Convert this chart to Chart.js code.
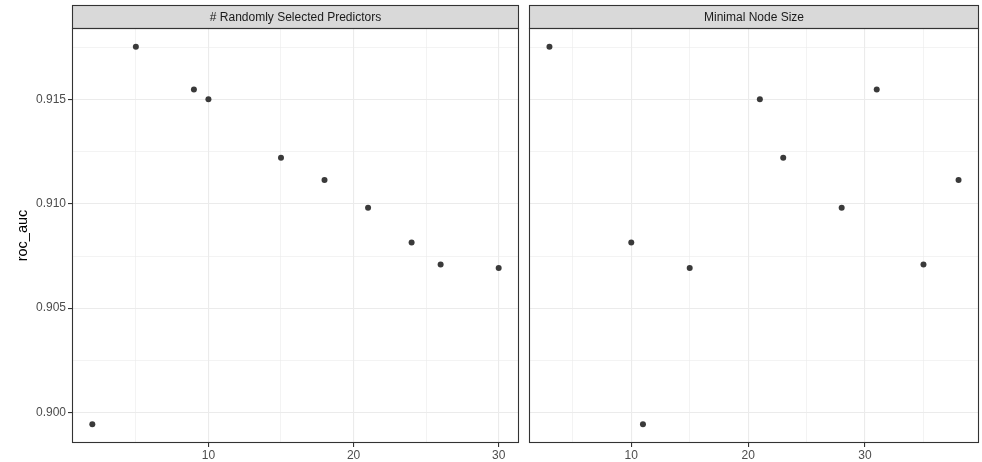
<!DOCTYPE html>
<html>
<head>
<meta charset="utf-8">
<script src="https://cdn.jsdelivr.net/npm/chart.js@4/dist/chart.umd.min.js"></script>
<style>
  html, body { margin: 0; padding: 0; background: #fff; }
  #wrap { position: relative; width: 982px; height: 462px; overflow: hidden; }
  canvas { position: absolute; top: 0; }
  #left { left: 0; }
  #right { left: 522px; }
</style>
</head>
<body>
<div id="wrap">
  <canvas id="left" width="522" height="462"></canvas>
  <canvas id="right" width="460" height="462"></canvas>
</div>
<script>
// tuning results, one row per candidate
const mtry   = [2, 5, 9, 10, 15, 18, 21, 24, 26, 30];
const minN   = [11, 3, 31, 21, 23, 38, 28, 10, 35, 15];
const rocAuc = [0.89943, 0.91754, 0.91549, 0.91503, 0.91222, 0.91115, 0.90982, 0.90815, 0.90709, 0.90693];

const facetTitles = ['# Randomly Selected Predictors', 'Minimal Node Size'];

const yMajor = [0.900, 0.905, 0.910, 0.915];
const yMinor = [0.9025, 0.9075, 0.9125, 0.9175];
const xMajor = [10, 20, 30];
const xMinorLeft = [5, 15, 25];
const xMinorRight = [5, 15, 25, 35];

const FONT = '"Liberation Sans", Arial, Helvetica, sans-serif';

// ggplot-like expanded ranges
function expand(vals, mult) {
  const lo = Math.min(...vals), hi = Math.max(...vals);
  const pad = (hi - lo) * mult;
  return { min: lo - pad, max: hi + pad };
}
const yRange = expand(rocAuc, 0.05);

function buildTicks(major, minor) {
  return major.map(v => ({ value: v, minor: false }))
    .concat(minor.map(v => ({ value: v, minor: true })))
    .sort((a, b) => a.value - b.value);
}

const gridWidth = ctx => (ctx.tick && ctx.tick.minor) ? 0.6 : 1.1;
const tickColor = ctx => (ctx.tick && ctx.tick.minor) ? 'rgba(0,0,0,0)' : '#333333';

// panel border + strip on top
const facetPlugin = {
  id: 'facet',
  afterDraw(chart, args, opts) {
    const { ctx, chartArea: a } = chart;
    ctx.save();
    const top = 5;
    const l = Math.round(a.left) + 0.5, r = Math.round(a.right) - 0.5;
    const t = Math.round(a.top) + 0.5, b = Math.round(a.bottom) - 0.5;
    ctx.fillStyle = '#D9D9D9';
    ctx.fillRect(l, top + 0.5, r - l, t - top);
    ctx.strokeStyle = '#333333';
    ctx.lineWidth = 1.1;
    ctx.strokeRect(l, top + 0.5, r - l, t - top - 0.5);
    ctx.strokeRect(l, t, r - l, b - t);
    ctx.fillStyle = '#1A1A1A';
    ctx.font = '12px ' + FONT;
    ctx.textAlign = 'center';
    ctx.textBaseline = 'middle';
    ctx.fillText(opts.title, (a.left + a.right) / 2, (top + a.top) / 2 + 1);
    ctx.restore();
  }
};

function makePanel(canvasId, xs, xMinor, title, withYAxis) {
  const xRange = expand(xs, 0.05);
  return new Chart(document.getElementById(canvasId), {
    type: 'scatter',
    data: {
      datasets: [{
        data: xs.map((x, i) => ({ x: x, y: rocAuc[i] })),
        backgroundColor: '#3A3A3A',
        borderWidth: 0,
        pointRadius: 3,
        pointHoverRadius: 3
      }]
    },
    plugins: [facetPlugin],
    options: {
      responsive: false,
      animation: false,
      events: [],
      layout: { padding: { top: 28, right: withYAxis ? 1 : 3, left: withYAxis ? 0 : 7, bottom: 0 } },
      plugins: {
        legend: { display: false },
        tooltip: { enabled: false },
        facet: { title: title }
      },
      scales: {
        x: {
          type: 'linear',
          min: xRange.min,
          max: xRange.max,
          afterBuildTicks: s => { s.ticks = buildTicks(xMajor, xMinor); },
          afterFit: s => { s.height = 19; },
          grid: { color: '#EBEBEB', lineWidth: gridWidth, tickColor: tickColor, tickLength: 4, drawTicks: true },
          border: { display: false },
          ticks: {
            padding: 1,
            color: '#4D4D4D',
            font: { family: FONT, size: 12 },
            maxRotation: 0,
            autoSkip: false,
            callback: (v, i, t) => t[i].minor ? '' : String(v)
          }
        },
        y: {
          type: 'linear',
          min: yRange.min,
          max: yRange.max,
          afterBuildTicks: s => { s.ticks = buildTicks(yMajor, yMinor); },
          afterFit: s => { s.width = withYAxis ? 72 : 0; },
          grid: { color: '#EBEBEB', lineWidth: gridWidth, tickColor: tickColor, tickLength: 4, drawTicks: withYAxis },
          border: { display: false },
          title: {
            display: withYAxis,
            text: 'roc_auc',
            color: '#000000',
            font: { family: FONT, size: 14.5 },
            padding: { top: 14, bottom: 0 }
          },
          ticks: {
            display: withYAxis,
            padding: 2,
            color: '#4D4D4D',
            font: { family: FONT, size: 12 },
            autoSkip: false,
            callback: (v, i, t) => t[i].minor ? '' : v.toFixed(3)
          }
        }
      }
    }
  });
}

makePanel('left', mtry, xMinorLeft, facetTitles[0], true);
makePanel('right', minN, xMinorRight, facetTitles[1], false);
</script>
</body>
</html>
